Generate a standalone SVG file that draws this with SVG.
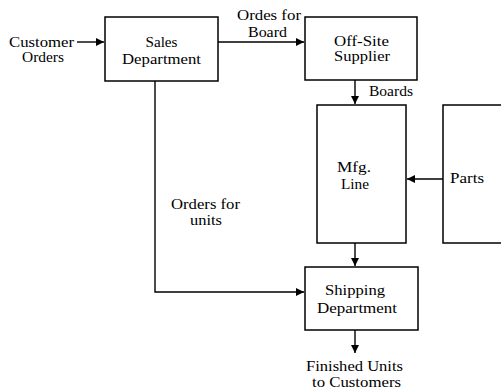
<svg xmlns="http://www.w3.org/2000/svg" width="501" height="390" viewBox="0 0 501 390">
<style>
.box{fill:#fff;stroke:#000;stroke-width:1.5}
.ln{fill:none;stroke:#000;stroke-width:1.4}
text{font-family:"Liberation Serif","Times New Roman",serif;font-size:15px;fill:#000}
.c{text-anchor:middle}
</style>
<defs>
<marker id="ah" viewBox="0 0 10 10" refX="10" refY="5" markerWidth="8" markerHeight="8" markerUnits="userSpaceOnUse" orient="auto">
<path d="M0,0 L10,5 L0,10 z" fill="#000"/>
</marker>
</defs>
<rect width="501" height="390" fill="#fff"/>
<g id="connectors">
<line class="ln" x1="77" y1="42" x2="104" y2="42" marker-end="url(#ah)"/>
<line class="ln" x1="218" y1="42" x2="304" y2="42" marker-end="url(#ah)"/>
<line class="ln" x1="355" y1="80" x2="355" y2="104" marker-end="url(#ah)"/>
<line class="ln" x1="443" y1="179" x2="407" y2="179" marker-end="url(#ah)"/>
<line class="ln" x1="355" y1="243" x2="355" y2="266" marker-end="url(#ah)"/>
<polyline class="ln" points="155,81 155,292 304,292" marker-end="url(#ah)"/>
<line class="ln" x1="355" y1="330" x2="355" y2="353" marker-end="url(#ah)"/>
<text class="c" x="269" y="20" textLength="64" lengthAdjust="spacingAndGlyphs">Ordes for</text>
<text class="c" x="267.5" y="37" textLength="39" lengthAdjust="spacingAndGlyphs">Board</text>
<text x="369" y="96" textLength="44" lengthAdjust="spacingAndGlyphs">Boards</text>
<text class="c" x="205.5" y="209" textLength="69" lengthAdjust="spacingAndGlyphs">Orders for</text>
<text class="c" x="206" y="225" textLength="32" lengthAdjust="spacingAndGlyphs">units</text>
</g>
<g id="customer-orders">
<text class="c" x="41.5" y="47" textLength="65" lengthAdjust="spacingAndGlyphs">Customer</text>
<text class="c" x="43" y="62" textLength="42" lengthAdjust="spacingAndGlyphs">Orders</text>
</g>
<g id="sales">
<rect class="box" x="105" y="17" width="113" height="64"/>
<text class="c" x="161.5" y="47" textLength="32" lengthAdjust="spacingAndGlyphs">Sales</text>
<text class="c" x="161.5" y="64" textLength="79" lengthAdjust="spacingAndGlyphs">Department</text>
</g>
<g id="supplier">
<rect class="box" x="305" y="17" width="112" height="63"/>
<text class="c" x="361.5" y="46" textLength="55" lengthAdjust="spacingAndGlyphs">Off-Site</text>
<text class="c" x="362" y="61" textLength="56" lengthAdjust="spacingAndGlyphs">Supplier</text>
</g>
<g id="mfg">
<rect class="box" x="317" y="105" width="89" height="138"/>
<text class="c" x="354" y="172" textLength="34" lengthAdjust="spacingAndGlyphs">Mfg.</text>
<text class="c" x="355" y="189" textLength="28" lengthAdjust="spacingAndGlyphs">Line</text>
</g>
<g id="parts">
<rect class="box" x="443" y="105" width="70" height="138"/>
<text x="450" y="183" textLength="34" lengthAdjust="spacingAndGlyphs">Parts</text>
</g>
<g id="shipping">
<rect class="box" x="305" y="267" width="113" height="63"/>
<text class="c" x="355" y="295" textLength="60" lengthAdjust="spacingAndGlyphs">Shipping</text>
<text class="c" x="357" y="313" textLength="80" lengthAdjust="spacingAndGlyphs">Department</text>
</g>
<g id="finished">
<text class="c" x="354.5" y="371" textLength="97" lengthAdjust="spacingAndGlyphs">Finished Units</text>
<text class="c" x="356.5" y="387" textLength="89" lengthAdjust="spacingAndGlyphs">to Customers</text>
</g>
</svg>
